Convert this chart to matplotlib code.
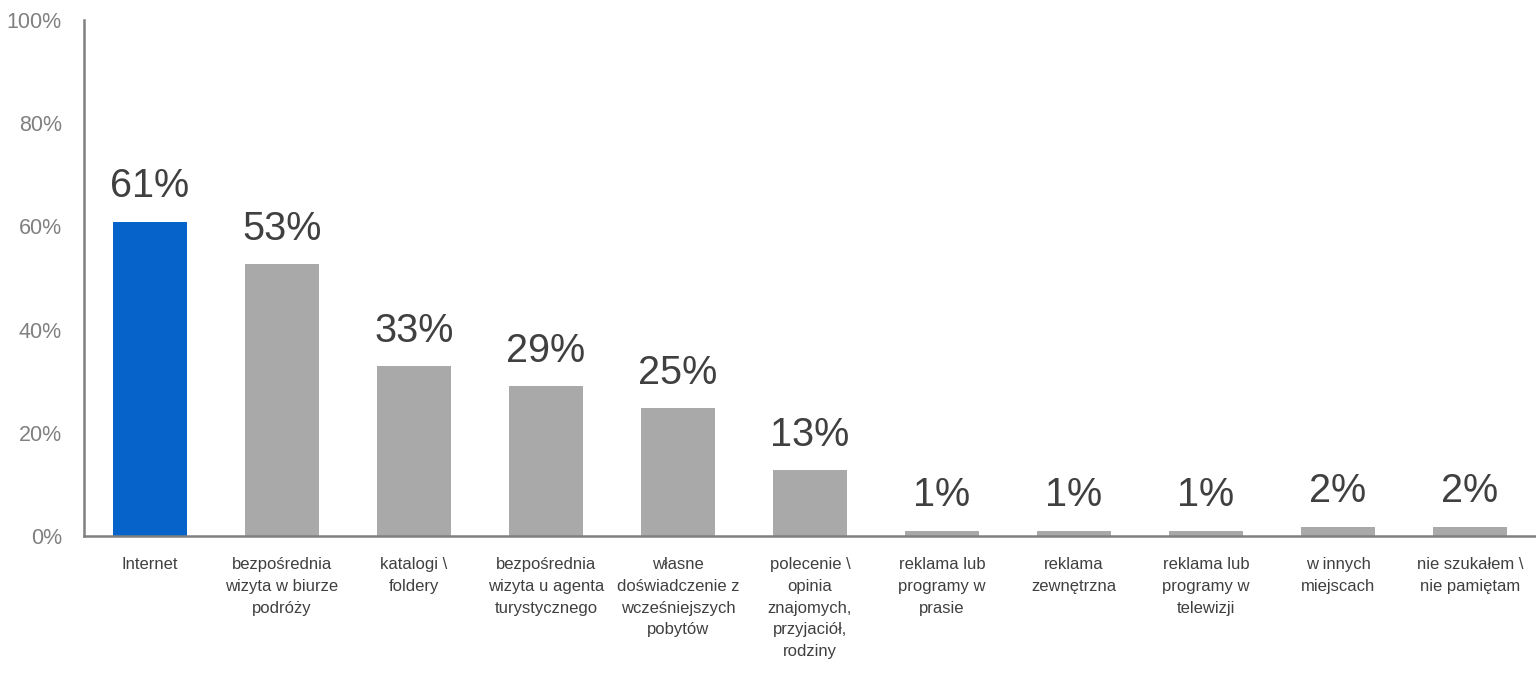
import matplotlib
matplotlib.use("Agg")
import matplotlib.pyplot as plt
from matplotlib.ticker import FuncFormatter

categories = [
    "Internet",
    "bezpośrednia\nwizyta w biurze\npodróży",
    "katalogi \\\nfoldery",
    "bezpośrednia\nwizyta u agenta\nturystycznego",
    "własne\ndoświadczenie z\nwcześniejszych\npobytów",
    "polecenie \\\nopinia\nznajomych,\nprzyjaciół,\nrodziny",
    "reklama lub\nprogramy w\nprasie",
    "reklama\nzewnętrzna",
    "reklama lub\nprogramy w\ntelewizji",
    "w innych\nmiejscach",
    "nie szukałem \\\nnie pamiętam",
]
values = [60.9, 52.7, 32.9, 29.0, 24.8, 12.7, 1.0, 1.0, 1.0, 1.8, 1.8]
highlight = [True] + [False] * 10
yticks = [0, 20, 40, 60, 80, 100]

plt.rcParams['font.family'] = ['Liberation Sans', 'DejaVu Sans']

fig = plt.figure(figsize=(15.36, 6.77), dpi=100)
ax = fig.add_axes([84 / 1536, 1 - 536 / 677, 1 - 84 / 1536, (536 - 20) / 677])

x = list(range(len(categories)))
colors = ['#0563C9' if h else '#A9A9A9' for h in highlight]
ax.bar(x, values, width=0.56, color=colors, zorder=2)

for xi, v in zip(x, values):
    ax.text(xi, v + 3.2, f"{round(v):d}%", ha='center', va='bottom',
            fontsize=28.5, color='#404040')

ax.set_xlim(-0.5, len(categories) - 0.5)
ax.set_ylim(0, 100)
ax.set_yticks(yticks)
ax.yaxis.set_major_formatter(FuncFormatter(lambda v, p: f"{int(v)}%"))
ax.tick_params(axis='y', length=0, pad=16, labelsize=15.5, labelcolor='#808080')
ax.set_xticks(x)
ax.set_xticklabels(categories, fontsize=12, color='#404040', linespacing=1.57, va='top')
ax.tick_params(axis='x', length=0, pad=15)

for s in ['top', 'right']:
    ax.spines[s].set_visible(False)
for s in ['left', 'bottom']:
    ax.spines[s].set_color('#808080')
    ax.spines[s].set_linewidth(1.8)

fig.savefig("out.png", dpi=100)
